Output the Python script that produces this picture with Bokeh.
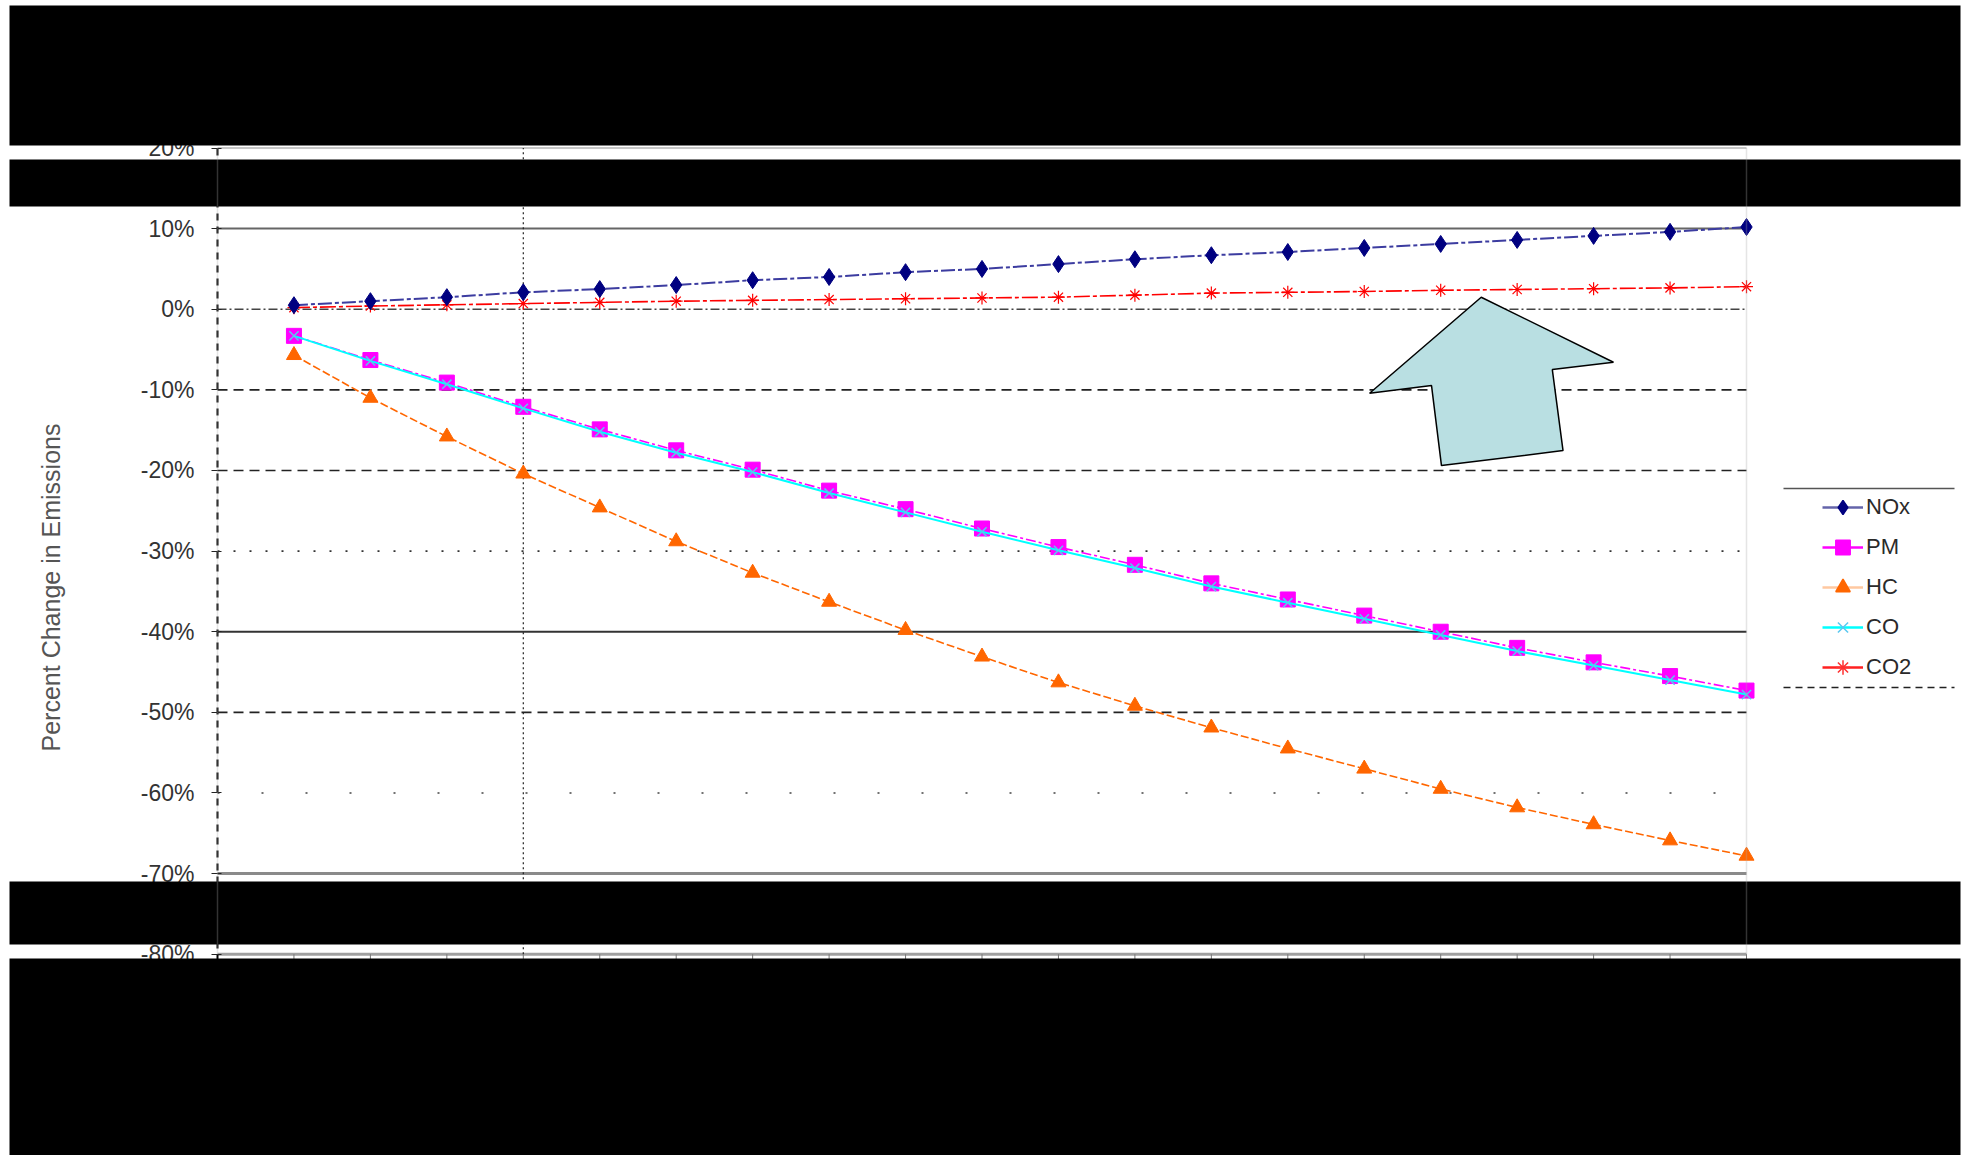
from bokeh.plotting import figure
from bokeh.models import (Range1d, FixedTicker, PrintfTickFormatter, LinearAxis,
                          BoxAnnotation, Legend, LegendItem, Arrow)
from bokeh.embed import file_html
from bokeh.resources import INLINE

FONT = "Liberation Sans"

# Percent change in emissions at each step
step = list(range(1, 21))
nox = [0.5, 1.0, 1.5, 2.1, 2.5, 3.0, 3.6, 4.0, 4.6, 5.0,
       5.6, 6.2, 6.7, 7.1, 7.6, 8.1, 8.6, 9.1, 9.6, 10.2]
pm = [-3.3, -6.3, -9.1, -12.1, -14.9, -17.5, -19.9, -22.5, -24.8, -27.2,
      -29.5, -31.7, -34.0, -36.0, -38.0, -40.0, -42.0, -43.8, -45.5, -47.3]
hc = [-5.7, -11.0, -15.8, -20.4, -24.6, -28.8, -32.7, -36.3, -39.8, -43.1,
      -46.3, -49.2, -51.9, -54.5, -57.0, -59.5, -61.8, -63.9, -65.9, -67.8]
co = [-3.3, -6.4, -9.3, -12.3, -15.2, -17.8, -20.2, -22.8, -25.2, -27.6,
      -29.9, -32.1, -34.4, -36.4, -38.4, -40.4, -42.4, -44.2, -46.0, -47.8]
co2 = [0.2, 0.4, 0.55, 0.7, 0.85, 1.0, 1.1, 1.2, 1.3, 1.4,
       1.5, 1.75, 2.0, 2.1, 2.2, 2.35, 2.45, 2.55, 2.65, 2.8]
y_ticks = [20, 10, 0, -10, -20, -30, -40, -50, -60, -70, -80]

X_LO, X_HI = 0, 20
Y_LO, Y_HI = -80, 20

# The frame fills the whole page; the plot box sits inside it so the
# masking bands and the side legend can be drawn anywhere on the page.
p = figure(width=1966, height=1155,
           x_range=Range1d(-2.8385, 22.8777), y_range=Range1d(-104.969, 38.296),
           output_backend="svg", toolbar_location=None,
           x_axis_type=None, y_axis_type=None,
           min_border_left=0, min_border_right=0, min_border_top=0, min_border_bottom=0)
p.background_fill_color = "white"
p.border_fill_color = "white"
p.outline_line_color = None
p.grid.visible = False

# y axis pinned at the left edge of the plot box; the spine runs on
# below the box (under the bottom band)
yax = LinearAxis(fixed_location=X_LO, bounds=(Y_LO - 9, Y_HI))
yax.ticker = FixedTicker(ticks=y_ticks)
yax.formatter = PrintfTickFormatter(format="%d%%")
yax.axis_line_color = "black"
yax.axis_line_width = 2
yax.axis_line_dash = "7 6"
yax.major_tick_out = 6
yax.major_tick_in = 4
yax.major_tick_line_color = "#222"
yax.minor_tick_line_color = None
yax.major_label_text_font = FONT
yax.major_label_text_font_size = "23px"
yax.major_label_text_color = "#333"
yax.major_label_standoff = 17
yax.axis_label = "Percent Change in Emissions"
yax.axis_label_text_font = FONT
yax.axis_label_text_font_size = "25px"
yax.axis_label_text_font_style = "normal"
yax.axis_label_text_color = "#555"
yax.axis_label_standoff = 73
p.add_layout(yax, "left")

# horizontal reference lines, one style per level
grid_styles = [
    (20, "#b4b4b4", 1.5, "solid"),
    (10, "#666666", 2.0, "solid"),
    (0, "#444444", 1.6, "9 3 2 3"),
    (-10, "#222222", 1.6, "10 6"),
    (-20, "#222222", 1.6, "10 6"),
    (-30, "#333333", 1.6, "2 14"),
    (-40, "#333333", 2.0, "solid"),
    (-50, "#222222", 1.6, "10 6"),
    (-60, "#444444", 1.6, "2 42"),
    (-70, "#8a8a8a", 3.0, "solid"),
    (-80, "#a0a0a0", 3.0, "solid"),
]
for loc, col, w, dash in grid_styles:
    p.segment(x0=X_LO, y0=loc, x1=X_HI, y1=loc, line_color=col,
              line_width=w, line_dash=dash)
p.segment(x0=4, y0=Y_LO, x1=4, y1=Y_HI, line_color="#222",
          line_width=1.2, line_dash="2 3")
# small category ticks under the plot box
p.segment(x0=step, y0=[Y_LO] * len(step), x1=step, y1=[Y_LO - 0.6] * len(step),
          line_color="#777", line_width=1)

# series
p.line(step, hc, line_color="#FF6600", line_width=1.6, line_dash="8 3")
p.scatter(step, hc, marker="triangle", size=15, color="#FF6600")
p.line(step, pm, line_color="#FF00FF", line_width=1.6, line_dash="10 3 3 3")
p.scatter(step, pm, marker="square", size=15, color="#FF00FF")
p.line(step, co, line_color="#00FFFF", line_width=2.0)
p.scatter(step, co, marker="x", size=13, line_color="#5BC8F0", line_width=1.5)
p.line(step, co2, line_color="#FF0000", line_width=1.6, line_dash="16 3 4 3")
p.scatter(step, co2, marker="asterisk", size=13, line_color="#FF0000", line_width=1.2)
p.line(step, nox, line_color="#3C3CA0", line_width=2.0, line_dash="14 3 4 3")
p.scatter(step, nox, marker="diamond", size=17, color="#000080")

# callout arrow
p.patch([16.53, 18.26, 17.46, 17.60, 16.01, 15.88, 15.07],
        [1.49, -6.58, -7.48, -17.53, -19.39, -9.47, -10.42],
        fill_color="#B9DFE2", line_color="black", line_width=1.5)

# legend swatches: renderers holding a single NaN point, so they draw
# nothing in the plot but still carry a style for the legend
NAN = [float("nan")]

def swatch(line_col, marker, m_fill, m_line):
    lr = p.line(NAN, NAN, line_color=line_col, line_width=2.5)
    mr = p.scatter(NAN, NAN, marker=marker, size=15, fill_color=m_fill,
                   line_color=m_line, line_width=1.5)
    return [lr, mr]

items = [
    LegendItem(label="NOx", renderers=swatch("#6464AA", "diamond", "#000080", "#000080")),
    LegendItem(label="PM", renderers=swatch("#FF00FF", "square", "#FF00FF", "#FF00FF")),
    LegendItem(label="HC", renderers=swatch("#FFC8A0", "triangle", "#FF6600", "#FF6600")),
    LegendItem(label="CO", renderers=swatch("#00FFFF", "x", None, "#5BC8F0")),
    LegendItem(label="CO2", renderers=swatch("#FF2020", "asterisk", None, "#FF3030")),
]
legend = Legend(items=items, location=(1822, 470), padding=0, margin=0,
                spacing=4, glyph_width=41, glyph_height=36, label_height=24,
                label_standoff=3, label_text_font=FONT, label_text_font_size="22px",
                label_text_color="#2a2a2a", border_line_alpha=0,
                background_fill_alpha=0)
p.add_layout(legend)

# legend rules above and below
p.add_layout(Arrow(x_start=1783, y_start=488, x_end=1954, y_end=488,
                   start_units="canvas", end_units="canvas", end=None,
                   line_color="#555", line_width=1.5, level="overlay"))
p.add_layout(Arrow(x_start=1783, y_start=687, x_end=1954, y_end=687,
                   start_units="canvas", end_units="canvas", end=None,
                   line_color="#222", line_width=1.5, line_dash="7 5", level="overlay"))

# black masking bands across the page
for top, bottom in [(5, 145), (159, 206), (881, 944), (958, 1155)]:
    p.add_layout(BoxAnnotation(left=9, right=1960, top=top, bottom=bottom,
                               left_units="canvas", right_units="canvas",
                               top_units="canvas", bottom_units="canvas",
                               fill_color="black", fill_alpha=1.0,
                               line_color=None, level="overlay"))

# plot box sides, drawn over the inner bands
for xs in (X_LO, X_HI):
    p.add_layout(BoxAnnotation(left=xs, right=xs, top=Y_HI, bottom=Y_LO,
                               fill_alpha=0, line_color="#a8a8a8",
                               line_width=1.5, level="overlay"))

open("out.html", "w").write(file_html(p, INLINE))
